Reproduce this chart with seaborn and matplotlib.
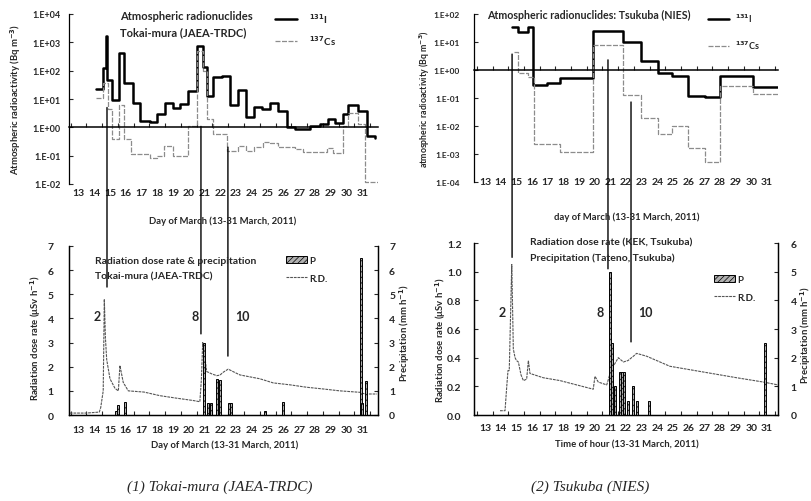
import numpy as np
import matplotlib
matplotlib.use("Agg")
import matplotlib.pyplot as plt
import seaborn as sns
from matplotlib.patches import ConnectionPatch

# ------------------------------------------------------------------ data
days = list(range(13, 32))
day_labels = [str(d) for d in days]
half_days = [d + 0.5 for d in range(12, 32)]

# Tokai-mura (JAEA-TRDC) atmospheric radionuclides, step series (Bq m-3)
tokai_i131_day = [14.11, 14.56, 14.75, 14.83, 15.11, 15.59, 15.89, 16.44, 16.90, 17.54,
                  17.98, 18.49, 19.00, 19.44, 19.95, 20.52, 20.90, 21.15, 21.53, 22.10,
                  22.61, 23.12, 23.62, 24.13, 24.64, 25.15, 25.65, 26.22, 26.73, 27.68,
                  28.32, 28.82, 29.27, 29.77, 30.09, 30.73, 31.30, 31.80]
tokai_i131_val = [23, 125, 1700, 45, 9, 420, 38, 7, 1.7, 1.5,
                  2.9, 7.5, 5, 6.5, 19, 770, 140, 13, 58, 66,
                  6, 21, 2.4, 5.4, 4.6, 7, 3.7, 1.0, 0.9, 1.15,
                  1.3, 2.0, 1.4, 2.9, 6, 3.7, 0.48, 0.42]
tokai_cs137_day = [14.11, 14.56, 14.87, 15.13, 15.59, 15.89, 16.33, 17.54, 17.98, 18.42,
                   19.00, 19.95, 20.52, 20.90, 21.15, 21.53, 22.42, 23.12, 23.62, 24.13,
                   24.70, 25.15, 25.65, 26.73, 27.24, 28.76, 29.14, 29.77, 30.09, 30.73,
                   31.17, 32.00]
tokai_cs137_val = [11, 38, 4.3, 0.38, 6, 0.38, 0.11, 0.08, 0.1, 0.22,
                   0.1, 1.1, 500, 100, 2, 0.57, 0.15, 0.22, 0.15, 0.2,
                   0.3, 0.27, 0.2, 0.17, 0.13, 0.19, 0.12, 1.1, 3.2, 1.3,
                   0.012, 0.012]

# Tsukuba (NIES) atmospheric radionuclides, step series (Bq m-3)
tsukuba_i131_day = [14.71, 15.11, 15.75, 16.07, 16.96, 17.79, 19.89, 21.81, 22.96, 24.04,
                    24.94, 25.96, 27.04, 28.00, 30.10, 31.70]
tsukuba_i131_val = [35, 23, 35, 0.29, 0.33, 0.52, 25, 10, 2.1, 0.78,
                    0.6, 0.115, 0.105, 0.6, 0.24, 0.24]
tsukuba_cs137_day = [14.85, 15.11, 15.75, 16.10, 17.79, 19.89, 21.81, 22.96, 24.04, 24.94,
                     25.96, 27.04, 28.00, 30.10, 31.70]
tsukuba_cs137_val = [4.4, 0.78, 0.56, 0.0022, 0.00115, 8, 0.13, 0.019, 0.0052, 0.0103,
                     0.0017, 0.00053, 0.26, 0.14, 0.14]

# Tokai-mura radiation dose rate (uSv h-1) and precipitation (mm h-1)
tokai_rd_day = [12.45, 13.5, 14.32, 14.41, 14.57, 14.64, 14.71, 14.79, 15.00, 15.32,
                15.53, 15.63, 15.84, 16.16, 17.16, 18.17, 19.19, 20.28, 20.70, 20.80,
                20.88, 21.02, 21.13, 21.47, 21.77, 21.97, 22.18, 22.50, 22.80, 23.24,
                24.51, 25.35, 26.41, 27.47, 28.50, 29.58, 30.85, 31.17, 31.93]
tokai_rd_val = [0.08, 0.08, 0.12, 0.3, 1.0, 4.8, 3.2, 2.3, 1.5, 1.1,
                1.0, 2.05, 1.35, 1.0, 0.95, 0.8, 0.7, 0.6, 0.55, 1.5,
                3.0, 2.4, 1.8, 1.7, 1.63, 1.65, 1.77, 1.9, 1.8, 1.66,
                1.5, 1.33, 1.25, 1.15, 1.08, 1.0, 0.94, 0.87, 0.87]
tokai_p_day = [15.40, 15.53, 15.95, 20.98, 21.24, 21.40, 21.80, 21.95, 22.58, 22.70,
               24.83, 25.95, 30.90, 31.00, 31.21]
tokai_p_val = [0.15, 0.4, 0.55, 3.0, 0.5, 0.5, 1.5, 1.45, 0.5, 0.5,
               0.15, 0.53, 6.5, 0.5, 1.42]

# Tsukuba: dose rate at KEK (uSv h-1), precipitation at Tateno (mm h-1)
kek_rd_day = [13.96, 14.28, 14.39, 14.47, 14.55, 14.71, 14.81, 14.92, 15.01, 15.13,
              15.30, 15.45, 15.66, 15.77, 15.87, 16.72, 17.79, 18.85, 19.91, 20.02,
              20.23, 20.77, 20.88, 20.98, 21.19, 21.51, 21.83, 22.13, 22.47, 22.68,
              23.32, 24.80, 26.93, 29.06, 30.76, 31.70]
kek_rd_val = [0.03, 0.03, 0.2, 0.31, 0.31, 1.05, 0.46, 0.40, 0.38, 0.37,
              0.28, 0.24, 0.25, 0.38, 0.29, 0.26, 0.24, 0.21, 0.18, 0.27,
              0.23, 0.21, 0.25, 0.29, 0.34, 0.40, 0.37, 0.38, 0.41, 0.43,
              0.41, 0.34, 0.30, 0.26, 0.23, 0.21]
tateno_p_day = [20.95, 21.11, 21.30, 21.59, 21.75, 21.90, 22.15, 22.47, 22.70, 23.47, 30.87]
tateno_p_val = [5.0, 2.5, 1.0, 1.5, 1.5, 1.5, 0.5, 1.0, 0.5, 0.5, 2.5]

# annotation markers (event numbers) and the connecting vertical lines
left_event_day = [14.81, 20.77, 22.48]
left_event_top = [5.0, 1.08, 0.2]
left_event_bottom = [5.3, 3.36, 2.44]
right_event_day = [14.73, 20.85, 22.32]
right_event_top = [3.7, 2.3, 0.072]
right_event_bottom = [1.10, 1.02, 0.51]
event_labels = ["2", "8", "10"]

tl_yticks = [1e-2, 1e-1, 1e0, 1e1, 1e2, 1e3, 1e4]
tl_ylabels = ["1.E-02", "1.E-01", "1.E+00", "1.E+01", "1.E+02", "1.E+03", "1.E+04"]
tr_yticks = [1e-4, 1e-3, 1e-2, 1e-1, 1e0, 1e1, 1e2]
tr_ylabels = ["1.E-04", "1.E-03", "1.E-02", "1.E-01", "1.E+00", "1.E+01", "1.E+02"]

# ------------------------------------------------------------------ style
sns.set_theme(style="white")
plt.rcParams['font.family'] = ['Lato', 'DejaVu Sans']
plt.rcParams['font.weight'] = 'bold'
plt.rcParams['axes.labelweight'] = 'bold'
plt.rcParams['hatch.linewidth'] = 0.5
plt.rcParams['axes.linewidth'] = 0.9
plt.rcParams['axes.edgecolor'] = 'black'

W, H = 812, 502
fig = plt.figure(figsize=(W / 100, H / 100), dpi=100)


def px_axes(l, t, r, b):
    return fig.add_axes([l / W, 1 - b / H, (r - l) / W, (b - t) / H])


def fx(x):
    return x / W


def fy(y):
    return 1 - y / H


ax_tl = px_axes(69, 15, 378, 185)
ax_tr = px_axes(474, 15, 778, 183)
ax_bl = px_axes(69, 247, 378, 416)
ax_br = px_axes(474, 244, 778, 416)

I_COLOR = 'black'
CS_COLOR = '#8c8c8c'
RD_COLOR = '#555555'


# ------------------------------------------------------------------ top panels
def atmos_panel(ax, i_day, i_val, c_day, c_val, xlim, ylim, yticks, ylabels, lab_pad, lab_size,
                xpad, xlab_size):
    ax.set_yscale('log')
    sns.lineplot(x=i_day, y=i_val, ax=ax, drawstyle='steps-post', estimator=None, sort=False,
                 color=I_COLOR, lw=1.8, label='$^{131}$I')
    sns.lineplot(x=c_day, y=c_val, ax=ax, drawstyle='steps-post', estimator=None, sort=False,
                 color=CS_COLOR, lw=0.9, ls=(0, (4, 1.2)), label='$^{137}$Cs')
    ax.set_xlim(*xlim)
    ax.set_ylim(*ylim)
    for s in ['top', 'right']:
        ax.spines[s].set_visible(False)
    ax.spines['bottom'].set_position(('data', 1.0))
    ax.spines['bottom'].set_linewidth(1.1)
    ax.set_xticks([h for h in half_days if xlim[0] < h < xlim[1]])
    ax.tick_params(axis='x', direction='in', length=3, width=0.8, labelbottom=False, bottom=True)
    ax.set_yticks(yticks, labels=ylabels)
    ax.minorticks_off()
    ax.tick_params(axis='y', direction='in', length=3, width=0.8, left=True, labelsize=lab_size,
                   pad=lab_pad)
    ax.set_xlabel('')
    ax.set_ylabel('')
    sec = ax.secondary_xaxis('bottom')
    sec.set_xticks(days, labels=day_labels)
    sec.tick_params(length=0, labelsize=xlab_size, pad=xpad)
    sec.spines['bottom'].set_visible(False)
    for t in sec.get_xticklabels():
        t.set_fontweight('bold')
    return ax


atmos_panel(ax_tl, tokai_i131_day, tokai_i131_val, tokai_cs137_day, tokai_cs137_val,
            (12.4, 32.0), (1e-2, 1e4), tl_yticks, tl_ylabels, 6, 6.5, 3, 7.5)
atmos_panel(ax_tr, tsukuba_i131_day, tsukuba_i131_val, tsukuba_cs137_day, tsukuba_cs137_val,
            (12.3, 31.7), (1e-4, 1e2), tr_yticks, tr_ylabels, 10, 6, -3.5, 7.5)

h, l = ax_tl.get_legend_handles_labels()
ax_tl.legend(h, l, loc='upper left', bbox_to_anchor=(fx(275), fy(12)), bbox_transform=fig.transFigure,
             frameon=False, fontsize=7, handlelength=2.3, handletextpad=1.2, labelspacing=0.85,
             borderpad=0, borderaxespad=0)
h, l = ax_tr.get_legend_handles_labels()
ax_tr.legend(h, l, loc='upper left', bbox_to_anchor=(fx(708), fy(13)), bbox_transform=fig.transFigure,
             frameon=False, fontsize=6.5, handlelength=2.3, handletextpad=0.7, labelspacing=1.6,
             borderpad=0, borderaxespad=0)


# ------------------------------------------------------------------ bottom panels
def dose_panel(ax, rd_day, rd_val, p_day, p_val, xlim, ylim, pylim, yticks, ylabels, pticks,
               lpad, rpad, xpad):
    sns.lineplot(x=rd_day, y=rd_val, ax=ax, estimator=None, sort=False, color=RD_COLOR,
                 lw=0.8, ls=(0, (2.5, 0.8)), label='R.D.')
    ax.set_xlim(*xlim)
    ax.set_ylim(*ylim)
    ax.spines['top'].set_visible(False)
    ax.set_xticks(days, labels=day_labels)
    ax.set_xticks([h for h in half_days if xlim[0] < h < xlim[1]], minor=True)
    ax.tick_params(axis='x', which='major', length=0, labelsize=7.5, pad=xpad)
    ax.tick_params(axis='x', which='minor', direction='in', length=3, width=0.8, bottom=True)
    ax.set_yticks(yticks, labels=ylabels)
    ax.tick_params(axis='y', direction='in', length=3, width=0.8, left=True, labelsize=7.5, pad=lpad)
    ax.set_xlabel('')
    ax.set_ylabel('')
    axp = ax.twinx()
    axp.bar(p_day, p_val, width=0.13, color='#b0b0b0', edgecolor='black', hatch='//////',
            lw=0.7, label='P')
    axp.set_ylim(*pylim)
    axp.set_yticks(pticks)
    axp.spines['top'].set_visible(False)
    axp.tick_params(axis='y', direction='in', length=3, width=0.8, right=True, labelsize=7.5, pad=rpad)
    axp.grid(False)
    leg = ax.get_legend()
    if leg is not None:
        leg.remove()
    return axp


axp_bl = dose_panel(ax_bl, tokai_rd_day, tokai_rd_val, tokai_p_day, tokai_p_val,
                    (12.4, 32.0), (0, 7), (0, 7), list(range(8)), [str(i) for i in range(8)],
                    list(range(8)), 11, 8, 7)
axp_br = dose_panel(ax_br, kek_rd_day, kek_rd_val, tateno_p_day, tateno_p_val,
                    (12.3, 31.7), (0, 1.2), (0, 6), [0, 0.2, 0.4, 0.6, 0.8, 1.0, 1.2],
                    ["0.0", "0.2", "0.4", "0.6", "0.8", "1.0", "1.2"], list(range(7)), 9, 9, 6)

for ax, axp, anchor in [(ax_bl, axp_bl, (286, 257)), (ax_br, axp_br, (714, 276))]:
    hp, lp = axp.get_legend_handles_labels()
    hr, lr = ax.get_legend_handles_labels()
    axp.legend(hp + hr, lp + lr, loc='upper left', bbox_to_anchor=(fx(anchor[0]), fy(anchor[1])),
               bbox_transform=fig.transFigure, frameon=False, fontsize=7, handlelength=2.2,
               handleheight=0.6, handletextpad=0.2, labelspacing=0.9, borderpad=0, borderaxespad=0)

# ------------------------------------------------------------------ event lines / numbers
for d, yt, yb, lab, dx in zip(left_event_day, left_event_top, left_event_bottom, event_labels, [-0.6, -0.35, 0.95]):
    con = ConnectionPatch(xyA=(d, yt), coordsA=ax_tl.transData, xyB=(d, yb), coordsB=ax_bl.transData,
                          color='black', lw=1.0)
    fig.add_artist(con)
    ax_bl.text(d + dx, 4.1, lab, ha='center', va='center', fontsize=9, fontweight='bold')
for d, yt, yb, lab, dx in zip(right_event_day, right_event_top, right_event_bottom, event_labels, [-0.6, -0.5, 0.9]):
    con = ConnectionPatch(xyA=(d, yt), coordsA=ax_tr.transData, xyB=(d, yb), coordsB=ax_br.transData,
                          color='black', lw=1.0)
    fig.add_artist(con)
    ax_br.text(d + dx, 0.72, lab, ha='center', va='center', fontsize=9, fontweight='bold')

# ------------------------------------------------------------------ texts
T = dict(fontweight='bold')
fig.text(fx(120), fy(17), 'Atmospheric radionuclides', fontsize=8, va='center', ha='left', **T)
fig.text(fx(120), fy(33), 'Tokai-mura (JAEA-TRDC)', fontsize=8, va='center', ha='left', **T)
fig.text(fx(487), fy(15), 'Atmospheric radionuclides: Tsukuba (NIES)', fontsize=7.7, va='center', ha='left', **T)
fig.text(fx(95), fy(262), 'Radiation dose rate & precipitation', fontsize=7.5, va='center', ha='left', **T)
fig.text(fx(95), fy(277), 'Tokai-mura (JAEA-TRDC)', fontsize=7.5, va='center', ha='left', **T)
fig.text(fx(530), fy(243), 'Radiation dose rate (KEK, Tsukuba)', fontsize=7.5, va='center', ha='left', **T)
fig.text(fx(530), fy(258), 'Precipitation (Tateno, Tsukuba)', fontsize=7.5, va='center', ha='left', **T)

fig.text(fx(16), fy(99), 'Atmospheric radioactivity (Bq m$^{-3}$)', rotation=90, fontsize=6.8, va='center', ha='center', **T)
fig.text(fx(425), fy(99), 'atmospheric radioactivity (Bq m$^{-3}$)', rotation=90, fontsize=6.3, va='center', ha='center', **T)
fig.text(fx(36), fy(338), 'Radiation dose rate (μSv h$^{-1}$)', rotation=90, fontsize=6.8, va='center', ha='center', **T)
fig.text(fx(405), fy(333), 'Precipitation (mm h$^{-1}$)', rotation=90, fontsize=6.8, va='center', ha='center', **T)
fig.text(fx(441), fy(340), 'Radiation dose rate (μSv h$^{-1}$)', rotation=90, fontsize=6.8, va='center', ha='center', **T)
fig.text(fx(806), fy(335), 'Precipitation (mm h$^{-1}$)', rotation=90, fontsize=6.8, va='center', ha='center', **T)

fig.text(fx(223), fy(221), 'Day of March (13-31 March, 2011)', fontsize=6.8, va='center', ha='center', **T)
fig.text(fx(627), fy(217), 'day of March (13-31 March, 2011)', fontsize=6.8, va='center', ha='center', **T)
fig.text(fx(225), fy(445), 'Day of March (13-31 March, 2011)', fontsize=6.8, va='center', ha='center', **T)
fig.text(fx(627), fy(445), 'Time of hour (13-31 March, 2011)', fontsize=6.8, va='center', ha='center', **T)

fig.text(fx(220), fy(487), '(1) Tokai-mura (JAEA-TRDC)', fontsize=11, va='center', ha='center',
         family=['Liberation Serif', 'DejaVu Serif'], style='italic', fontweight='normal')
fig.text(fx(590), fy(487), '(2) Tsukuba (NIES)', fontsize=11, va='center', ha='center',
         family=['Liberation Serif', 'DejaVu Serif'], style='italic', fontweight='normal')

fig.savefig('out.png', dpi=100)
